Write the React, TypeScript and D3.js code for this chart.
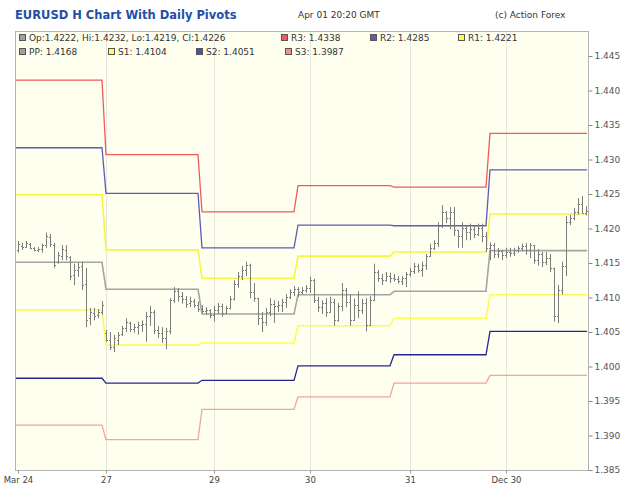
import React, { useEffect, useRef } from 'react';
import * as d3 from 'd3';

// Hourly EURUSD bars, Mar 24 - Apr 01
const open = [
  1.4169, 1.4175, 1.4173, 1.4178, 1.4172, 1.4169, 1.4170, 1.4176, 1.4188, 1.4176, 1.4152, 1.4160, 1.4169, 1.4159, 1.4133, 1.4140, 1.4146, 1.4120, 1.4070, 1.4078, 1.4075, 1.4079,
  1.4049, 1.4038, 1.4028, 1.4038, 1.4047, 1.4056, 1.4063, 1.4054, 1.4057, 1.4060, 1.4062, 1.4073, 1.4079, 1.4053, 1.4049, 1.4041, 1.4051, 1.4096, 1.4109, 1.4102, 1.4098, 1.4092, 1.4095, 1.4089,
  1.4083, 1.4080, 1.4082, 1.4075, 1.4082, 1.4088, 1.4078, 1.4085, 1.4098, 1.4120, 1.4131, 1.4140, 1.4147, 1.4108, 1.4099, 1.4070, 1.4065, 1.4079, 1.4091, 1.4088, 1.4089, 1.4094, 1.4101, 1.4108,
  1.4112, 1.4108, 1.4111, 1.4114, 1.4125, 1.4096, 1.4086, 1.4092, 1.4079, 1.4094, 1.4067, 1.4088, 1.4111, 1.4094, 1.4067, 1.4089, 1.4082, 1.4092, 1.4060, 1.4096, 1.4137, 1.4128, 1.4125, 1.4131,
  1.4128, 1.4127, 1.4124, 1.4128, 1.4134, 1.4138, 1.4146, 1.4140, 1.4147, 1.4160, 1.4172, 1.4179, 1.4204, 1.4224, 1.4215, 1.4224, 1.4198, 1.4189, 1.4201, 1.4195, 1.4199, 1.4192, 1.4201, 1.4189,
  1.4172, 1.4176, 1.4163, 1.4167, 1.4162, 1.4166, 1.4165, 1.4169, 1.4172, 1.4175, 1.4169, 1.4176, 1.4154, 1.4163, 1.4152, 1.4157, 1.4143, 1.4073, 1.4111, 1.4146, 1.4209, 1.4215, 1.4224, 1.4236, 1.4222,
];
const high = [
  1.4182, 1.4179, 1.4182, 1.4179, 1.4173, 1.4173, 1.4178, 1.4194, 1.4192, 1.4179, 1.4166, 1.4176, 1.4176, 1.4160, 1.4149, 1.4150, 1.4152, 1.4143, 1.4085, 1.4085, 1.4083, 1.4095,
  1.4053, 1.4050, 1.4046, 1.4050, 1.4059, 1.4070, 1.4065, 1.4062, 1.4065, 1.4067, 1.4079, 1.4088, 1.4082, 1.4059, 1.4057, 1.4056, 1.4099, 1.4115, 1.4114, 1.4108, 1.4102, 1.4101, 1.4098, 1.4094,
  1.4089, 1.4086, 1.4083, 1.4088, 1.4092, 1.4091, 1.4088, 1.4102, 1.4125, 1.4137, 1.4146, 1.4152, 1.4149, 1.4121, 1.4099, 1.4079, 1.4085, 1.4099, 1.4096, 1.4095, 1.4098, 1.4105, 1.4112, 1.4117,
  1.4115, 1.4115, 1.4118, 1.4130, 1.4127, 1.4101, 1.4096, 1.4099, 1.4101, 1.4098, 1.4092, 1.4121, 1.4114, 1.4104, 1.4098, 1.4109, 1.4098, 1.4099, 1.4102, 1.4149, 1.4140, 1.4134, 1.4137, 1.4136,
  1.4134, 1.4131, 1.4131, 1.4137, 1.4143, 1.4150, 1.4149, 1.4152, 1.4163, 1.4178, 1.4183, 1.4209, 1.4234, 1.4225, 1.4231, 1.4231, 1.4198, 1.4209, 1.4205, 1.4207, 1.4204, 1.4207, 1.4207, 1.4195,
  1.4180, 1.4179, 1.4172, 1.4169, 1.4172, 1.4172, 1.4172, 1.4175, 1.4178, 1.4179, 1.4179, 1.4176, 1.4170, 1.4166, 1.4166, 1.4163, 1.4143, 1.4118, 1.4152, 1.4218, 1.4220, 1.4230, 1.4244, 1.4247, 1.4232,
];
const low = [
  1.4165, 1.4169, 1.4172, 1.4170, 1.4167, 1.4166, 1.4165, 1.4172, 1.4173, 1.4143, 1.4149, 1.4154, 1.4154, 1.4125, 1.4118, 1.4130, 1.4111, 1.4057, 1.4060, 1.4067, 1.4070, 1.4075,
  1.4036, 1.4024, 1.4021, 1.4031, 1.4044, 1.4050, 1.4050, 1.4049, 1.4046, 1.4050, 1.4036, 1.4059, 1.4047, 1.4041, 1.4034, 1.4025, 1.4047, 1.4092, 1.4094, 1.4091, 1.4085, 1.4086, 1.4085, 1.4079,
  1.4078, 1.4075, 1.4070, 1.4065, 1.4076, 1.4072, 1.4076, 1.4083, 1.4096, 1.4114, 1.4125, 1.4131, 1.4099, 1.4094, 1.4060, 1.4050, 1.4059, 1.4073, 1.4063, 1.4079, 1.4079, 1.4085, 1.4098, 1.4102,
  1.4101, 1.4105, 1.4107, 1.4107, 1.4092, 1.4079, 1.4076, 1.4072, 1.4078, 1.4059, 1.4065, 1.4080, 1.4086, 1.4059, 1.4066, 1.4070, 1.4076, 1.4051, 1.4059, 1.4095, 1.4123, 1.4118, 1.4123, 1.4121,
  1.4123, 1.4120, 1.4118, 1.4115, 1.4130, 1.4134, 1.4136, 1.4130, 1.4140, 1.4159, 1.4169, 1.4173, 1.4201, 1.4208, 1.4199, 1.4189, 1.4172, 1.4172, 1.4183, 1.4183, 1.4186, 1.4189, 1.4180, 1.4166,
  1.4154, 1.4157, 1.4157, 1.4154, 1.4157, 1.4159, 1.4160, 1.4165, 1.4167, 1.4162, 1.4157, 1.4149, 1.4146, 1.4144, 1.4147, 1.4137, 1.4065, 1.4063, 1.4104, 1.4131, 1.4205, 1.4212, 1.4220, 1.4222, 1.4219,
];
const close = [
  1.4178, 1.4173, 1.4179, 1.4172, 1.4169, 1.4170, 1.4176, 1.4189, 1.4178, 1.4147, 1.4162, 1.4170, 1.4160, 1.4131, 1.4140, 1.4144, 1.4118, 1.4067, 1.4079, 1.4073, 1.4079, 1.4089,
  1.4038, 1.4028, 1.4041, 1.4046, 1.4056, 1.4065, 1.4054, 1.4057, 1.4060, 1.4062, 1.4073, 1.4079, 1.4053, 1.4049, 1.4041, 1.4051, 1.4096, 1.4109, 1.4102, 1.4098, 1.4091, 1.4095, 1.4089, 1.4083,
  1.4080, 1.4082, 1.4075, 1.4082, 1.4088, 1.4078, 1.4085, 1.4098, 1.4120, 1.4131, 1.4140, 1.4147, 1.4108, 1.4099, 1.4070, 1.4065, 1.4079, 1.4091, 1.4088, 1.4089, 1.4094, 1.4101, 1.4108, 1.4112,
  1.4108, 1.4111, 1.4114, 1.4125, 1.4096, 1.4086, 1.4092, 1.4079, 1.4094, 1.4067, 1.4088, 1.4111, 1.4094, 1.4067, 1.4089, 1.4082, 1.4092, 1.4060, 1.4096, 1.4137, 1.4128, 1.4125, 1.4131, 1.4128,
  1.4127, 1.4124, 1.4128, 1.4134, 1.4138, 1.4146, 1.4140, 1.4147, 1.4160, 1.4172, 1.4179, 1.4204, 1.4224, 1.4215, 1.4224, 1.4198, 1.4189, 1.4201, 1.4195, 1.4199, 1.4192, 1.4201, 1.4189, 1.4172,
  1.4176, 1.4163, 1.4167, 1.4162, 1.4166, 1.4165, 1.4169, 1.4172, 1.4175, 1.4169, 1.4176, 1.4154, 1.4163, 1.4152, 1.4157, 1.4143, 1.4073, 1.4111, 1.4146, 1.4209, 1.4215, 1.4224, 1.4236, 1.4222, 1.4226,
];

// first bar index of each trading day
const dayStarts = [0, 22, 46, 70, 94, 118];

// daily pivot levels, one per day
const r3 = [1.4415, 1.4307, 1.4224, 1.4262, 1.4260, 1.4338];
const r2 = [1.4317, 1.4251, 1.4172, 1.4205, 1.4204, 1.4285];
const r1 = [1.4249, 1.4169, 1.4128, 1.4160, 1.4166, 1.4221];
const pp = [1.4151, 1.4112, 1.4076, 1.4104, 1.4109, 1.4168];
const s1 = [1.4082, 1.4031, 1.4034, 1.4059, 1.4070, 1.4104];
const s2 = [1.3983, 1.3976, 1.3980, 1.4001, 1.4017, 1.4051];
const s3 = [1.3915, 1.3894, 1.3938, 1.3956, 1.3976, 1.3987];

// x axis labels and the bar they sit on
const xTickBars = [0, 22, 49, 73, 98, 122];
const xTickLabels = ['Mar 24', '27', '29', '30', '31', 'Dec 30'];

const yTicks = [1.385, 1.39, 1.395, 1.4, 1.405, 1.41, 1.415, 1.42, 1.425, 1.43, 1.435, 1.44, 1.445];

const pivotSeries = [
  { name: 'R3', levels: r3, color: '#f05a5a', box: '#f05a5a' },
  { name: 'R2', levels: r2, color: '#5c5cb4', box: '#5c5cb4' },
  { name: 'R1', levels: r1, color: '#f6f640', box: '#ffff44' },
  { name: 'PP', levels: pp, color: '#a4a4a4', box: '#a0a0a0' },
  { name: 'S1', levels: s1, color: '#fbfb5c', box: '#ffff44' },
  { name: 'S2', levels: s2, color: '#262690', box: '#5050a8' },
  { name: 'S3', levels: s3, color: '#f4a2a2', box: '#f49090' },
];

const FONT = '"DejaVu Sans", Verdana, sans-serif';

export default function App() {
  const svgRef = useRef<SVGSVGElement>(null);

  useEffect(() => {
    if (!svgRef.current) return;
    const svg = d3.select(svgRef.current);
    svg.selectAll('*').remove();

    const W = 625;
    const H = 499;
    const plot = { left: 15, right: 588, top: 31, bottom: 470 };

    svg.attr('width', W).attr('height', H);

    const x = d3.scaleLinear().domain([0, open.length - 1]).range([18, 586]);
    const y = d3.scaleLinear()
      .domain([1.385, 1.385 + (plot.bottom - plot.top) / 6900])
      .range([plot.bottom, plot.top]);

    const dayOf = (i: number) => d3.bisectRight(dayStarts, i) - 1;

    // plot background
    svg.append('rect')
      .attr('x', plot.left)
      .attr('y', plot.top)
      .attr('width', plot.right - plot.left)
      .attr('height', plot.bottom - plot.top)
      .attr('fill', '#fffff0');

    // vertical grid lines at the date labels
    svg.append('g')
      .selectAll('line')
      .data(xTickBars.slice(1))
      .join('line')
      .attr('x1', d => Math.round(x(d)) + 0.5)
      .attr('x2', d => Math.round(x(d)) + 0.5)
      .attr('y1', plot.top)
      .attr('y2', plot.bottom)
      .attr('stroke', '#e6e6da')
      .attr('stroke-width', 1);

    // pivot step lines, one point per bar so day changes slope over one bar
    const idx = d3.range(open.length);
    pivotSeries.forEach(p => {
      const pts: [number, number][] = [];
      pts.push([plot.left + 1, y(p.levels[0])]);
      idx.forEach(i => pts.push([x(i), y(p.levels[dayOf(i)])]));
      pts.push([plot.right - 1, y(p.levels[p.levels.length - 1])]);
      svg.append('path')
        .attr('d', d3.line()(pts))
        .attr('fill', 'none')
        .attr('stroke', p.color)
        .attr('stroke-width', p.name === 'PP' || p.name === 'R1' || p.name === 'S1' ? 1.6 : 1.3);
    });

    // OHLC bars
    const bars = svg.append('g').attr('stroke', '#7c7c7c').attr('stroke-width', 1);
    idx.forEach(i => {
      const cx = Math.round(x(i)) + 0.5;
      bars.append('line')
        .attr('x1', cx).attr('x2', cx)
        .attr('y1', y(high[i])).attr('y2', y(low[i]));
      bars.append('line')
        .attr('x1', cx - 1.5).attr('x2', cx)
        .attr('y1', Math.round(y(open[i])) + 0.5).attr('y2', Math.round(y(open[i])) + 0.5);
      bars.append('line')
        .attr('x1', cx).attr('x2', cx + 1.5)
        .attr('y1', Math.round(y(close[i])) + 0.5).attr('y2', Math.round(y(close[i])) + 0.5);
    });

    // plot frame
    svg.append('rect')
      .attr('x', plot.left + 0.5)
      .attr('y', plot.top + 0.5)
      .attr('width', plot.right - plot.left)
      .attr('height', plot.bottom - plot.top)
      .attr('fill', 'none')
      .attr('stroke', '#b4b4b4');

    // right price axis
    const yAxis = svg.append('g')
      .attr('transform', `translate(${plot.right + 0.5},0)`)
      .call(d3.axisRight(y).tickValues(yTicks).tickSize(4).tickPadding(2).tickFormat(d3.format('.3f')));
    yAxis.select('.domain').remove();
    yAxis.selectAll('line').attr('stroke', '#888');
    yAxis.selectAll('text')
      .attr('font-family', FONT)
      .attr('font-size', 9)
      .attr('fill', '#555');

    // bottom date axis
    const xAxis = svg.append('g')
      .attr('transform', `translate(0,${plot.bottom + 0.5})`)
      .call(d3.axisBottom(x).tickValues(xTickBars).tickSize(3).tickPadding(3)
        .tickFormat((_, k) => xTickLabels[k]));
    xAxis.select('.domain').remove();
    xAxis.selectAll('line').attr('stroke', '#999');
    xAxis.selectAll('text')
      .attr('font-family', FONT)
      .attr('font-size', 8.5)
      .attr('fill', '#444');

    // header
    svg.append('text')
      .attr('x', 15).attr('y', 19)
      .attr('font-family', FONT)
      .attr('font-weight', 'bold')
      .attr('font-size', 11.5)
      .attr('fill', '#1f50a6')
      .text('EURUSD H Chart With Daily Pivots');
    svg.append('text')
      .attr('x', 298).attr('y', 18)
      .attr('font-family', FONT)
      .attr('font-size', 9)
      .attr('fill', '#333')
      .text('Apr 01 20:20 GMT');
    svg.append('text')
      .attr('x', 495).attr('y', 18)
      .attr('font-family', FONT)
      .attr('font-size', 9)
      .attr('fill', '#333')
      .text('(c) Action Forex');

    // legend inside the plot
    const last = open.length - 1;
    const fmt = d3.format('.4f');
    const legendItems = [
      { x: 19, y: 38, box: '#a0a0a0', text: `Op:${fmt(open[last])}, Hi:${fmt(high[last])}, Lo:${fmt(low[last])}, Cl:${fmt(close[last])}` },
      { x: 281, y: 38, box: pivotSeries[0].box, text: `R3: ${fmt(r3[5])}` },
      { x: 370, y: 38, box: pivotSeries[1].box, text: `R2: ${fmt(r2[5])}` },
      { x: 458, y: 38, box: pivotSeries[2].box, text: `R1: ${fmt(r1[5])}` },
      { x: 19, y: 52, box: pivotSeries[3].box, text: `PP: ${fmt(pp[5])}` },
      { x: 108, y: 52, box: pivotSeries[4].box, text: `S1: ${fmt(s1[5])}` },
      { x: 196, y: 52, box: pivotSeries[5].box, text: `S2: ${fmt(s2[5])}` },
      { x: 285, y: 52, box: pivotSeries[6].box, text: `S3: ${fmt(s3[5])}` },
    ];
    const lg = svg.append('g');
    legendItems.forEach(it => {
      lg.append('rect')
        .attr('x', it.x + 0.5).attr('y', it.y - 3.5)
        .attr('width', 6).attr('height', 6)
        .attr('fill', it.box)
        .attr('stroke', '#555');
      lg.append('text')
        .attr('x', it.x + 10).attr('y', it.y + 3)
        .attr('font-family', FONT)
        .attr('font-size', 9)
        .attr('fill', '#333')
        .text(it.text);
    });
  }, []);

  return (
    <div style={{ position: 'absolute', left: 0, top: 0, background: '#fff' }}>
      <svg ref={svgRef}></svg>
    </div>
  );
}
